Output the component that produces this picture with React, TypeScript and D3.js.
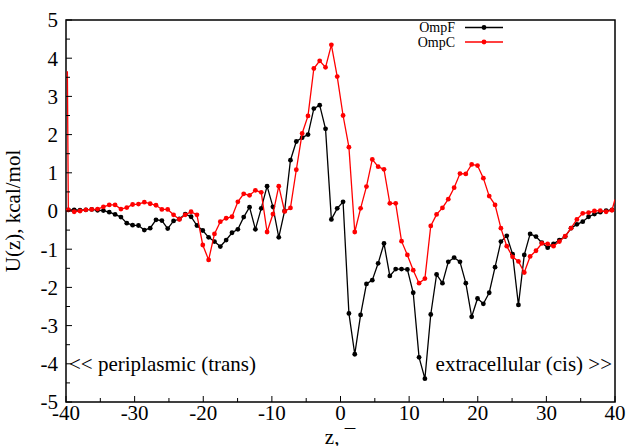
import React from "react";
import * as d3 from "d3";

const W = 631;
const H = 446;

// z grid of the sampled profile (Å)
const zStart = -39.66;
const zStep = 0.8518;

const ompF: number[] = [
  0.03, 0.03, 0.02, 0.03, 0.04, 0.02, 0.01, -0.03, -0.09, -0.16,
  -0.32, -0.37, -0.38, -0.5, -0.45, -0.23, -0.25, -0.46, -0.26, -0.21,
  -0.08, -0.15, -0.38, -0.51, -0.69, -0.8, -0.93, -0.76, -0.57, -0.48,
  -0.16, 0.1, -0.48, 0.07, 0.65, 0.11, -0.69, 0.0, 1.33, 1.82,
  1.92, 2.0, 2.68, 2.77, 2.15, -0.22, 0.07, 0.24, -2.68, -3.75,
  -2.72, -1.91, -1.81, -1.37, -0.85, -1.7, -1.52, -1.52, -1.53, -2.14,
  -3.83, -4.39, -2.71, -1.66, -1.89, -1.33, -1.22, -1.33, -1.89, -2.77,
  -2.29, -2.43, -2.14, -1.47, -0.8, -0.65, -1.13, -2.46, -1.15, -0.6,
  -0.67, -0.83, -0.96, -0.86, -0.76, -0.67, -0.45, -0.35, -0.28, -0.15,
  -0.08, -0.03, 0.01, 0.03,
];

const ompC: number[] = [
  0.03, -0.02, 0.0, 0.03, 0.04, 0.05, 0.11, 0.16, 0.16, 0.05,
  0.09, 0.17, 0.18, 0.23, 0.19, 0.15, 0.04, 0.04, -0.1, -0.22,
  -0.1, -0.02, -0.1, -0.89, -1.28, -0.6, -0.28, -0.19, -0.15, 0.24,
  0.45, 0.41, 0.54, 0.49, -0.55, -0.08, 0.65, -0.01, 0.08, 1.08,
  2.03, 2.49, 3.73, 3.93, 3.76, 4.35, 3.52, 2.5, 1.67, -0.55,
  0.07, 0.64, 1.35, 1.16, 1.09, 0.2, 0.2, -0.79, -1.15, -1.55,
  -1.89, -1.77, -0.39, -0.09, 0.08, 0.31, 0.61, 0.98, 0.97, 1.22,
  1.19, 0.86, 0.39, 0.16, -0.45, -0.92, -1.2, -1.32, -1.61, -1.19,
  -1.04, -0.85, -0.86, -0.92, -0.8, -0.66, -0.45, -0.22, -0.06, -0.04,
  0.0, 0.01, -0.02, 0.02,
];

// end points of the OmpC curve (no markers)
const ompCEdges: [number, number][] = [
  [-39.8, 3.66],
  [40, 0.3],
];

const xTicks = [-40, -30, -20, -10, 0, 10, 20, 30, 40];
const xMinor = [-35, -25, -15, -5, 5, 15, 25, 35];
const yTicks = [-5, -4, -3, -2, -1, 0, 1, 2, 3, 4, 5];
const yMinor = [-4.5, -3.5, -2.5, -1.5, -0.5, 0.5, 1.5, 2.5, 3.5, 4.5];

const seriesNames = ["OmpF", "OmpC"];
const seriesColors = ["#000000", "#ff0000"];

const M = { left: 66, right: 615, top: 20, bottom: 402 };
const FONT = '"Liberation Serif", "Times New Roman", Times, serif';

export default function App() {
  const x = d3.scaleLinear().domain([-40, 40]).range([M.left, M.right]);
  const y = d3.scaleLinear().domain([-5, 5]).range([M.bottom, M.top]);

  const zs = ompF.map((_, i) => zStart + i * zStep);
  const ptsF: [number, number][] = ompF.map((v, i) => [zs[i], v]);
  const ptsC: [number, number][] = ompC.map((v, i) => [zs[i], v]);
  const lineC: [number, number][] = [ompCEdges[0], ...ptsC, ompCEdges[1]];

  const line = d3
    .line<[number, number]>()
    .x((d) => x(d[0]))
    .y((d) => y(d[1]));

  const series = [
    { pts: ptsF, path: ptsF, color: seriesColors[0] },
    { pts: ptsC, path: lineC, color: seriesColors[1] },
  ];

  const tStyle = { fontFamily: FONT };

  return (
    <svg
      width={W}
      height={H}
      style={{ position: "absolute", left: 0, top: 0, background: "#fff", fontFamily: FONT }}
    >
      <rect x={0} y={0} width={W} height={H} fill="#fff" />
      <defs>
        <clipPath id="plotclip">
          <rect x={M.left} y={M.top} width={M.right - M.left} height={M.bottom - M.top} />
        </clipPath>
      </defs>

      {/* frame */}
      <rect
        x={M.left}
        y={M.top}
        width={M.right - M.left}
        height={M.bottom - M.top}
        fill="none"
        stroke="#000"
        strokeWidth={1.5}
      />

      {/* series */}
      <g clipPath="url(#plotclip)">
        {series.map((s, k) => (
          <g key={k}>
            <path d={line(s.path) || ""} fill="none" stroke={s.color} strokeWidth={1.3} />
            {s.pts.map((p, i) => (
              <circle key={i} cx={x(p[0])} cy={y(p[1])} r={2.4} fill={s.color} />
            ))}
          </g>
        ))}
      </g>

      {/* x ticks */}
      {xTicks.map((t) => (
        <g key={"xt" + t}>
          <line x1={x(t)} x2={x(t)} y1={M.bottom} y2={M.bottom - 6} stroke="#000" strokeWidth={1} />
          <text x={x(t)} y={420} textAnchor="middle" fontSize={21} style={tStyle}>
            {t}
          </text>
        </g>
      ))}
      {xMinor.map((t) => (
        <line key={"xm" + t} x1={x(t)} x2={x(t)} y1={M.bottom} y2={M.bottom - 4} stroke="#000" strokeWidth={1} />
      ))}

      {/* y ticks */}
      {yTicks.map((t) => (
        <g key={"yt" + t}>
          <line x1={M.left} x2={M.left + 6} y1={y(t)} y2={y(t)} stroke="#000" strokeWidth={1} />
          <text x={58} y={y(t)} dy="0.35em" textAnchor="end" fontSize={21} style={tStyle}>
            {t}
          </text>
        </g>
      ))}
      {yMinor.map((t) => (
        <line key={"ym" + t} x1={M.left} x2={M.left + 4} y1={y(t)} y2={y(t)} stroke="#000" strokeWidth={1} />
      ))}

      {/* axis titles */}
      <text
        transform={`translate(20, ${y(0)}) rotate(-90)`}
        textAnchor="middle"
        fontSize={21}
        style={tStyle}
      >
        U(z), kcal/mol
      </text>
      <text x={340} y={444} textAnchor="middle" fontSize={21} style={tStyle}>
        z, ¯
      </text>

      {/* annotations */}
      <text x={69} y={371} fontSize={21} style={tStyle}>
        {"<< periplasmic (trans)"}
      </text>
      <text x={612} y={371} textAnchor="end" fontSize={21} style={tStyle}>
        {"extracellular (cis) >>"}
      </text>

      {/* legend */}
      {seriesNames.map((n, k) => {
        const ly = 27.5 + k * 14.5;
        return (
          <g key={n}>
            <text x={455} y={ly} dy="0.35em" textAnchor="end" fontSize={14} style={tStyle}>
              {n}
            </text>
            <line x1={465} x2={503} y1={ly} y2={ly} stroke={seriesColors[k]} strokeWidth={1.3} />
            <circle cx={484} cy={ly} r={2.4} fill={seriesColors[k]} />
          </g>
        );
      })}
    </svg>
  );
}
